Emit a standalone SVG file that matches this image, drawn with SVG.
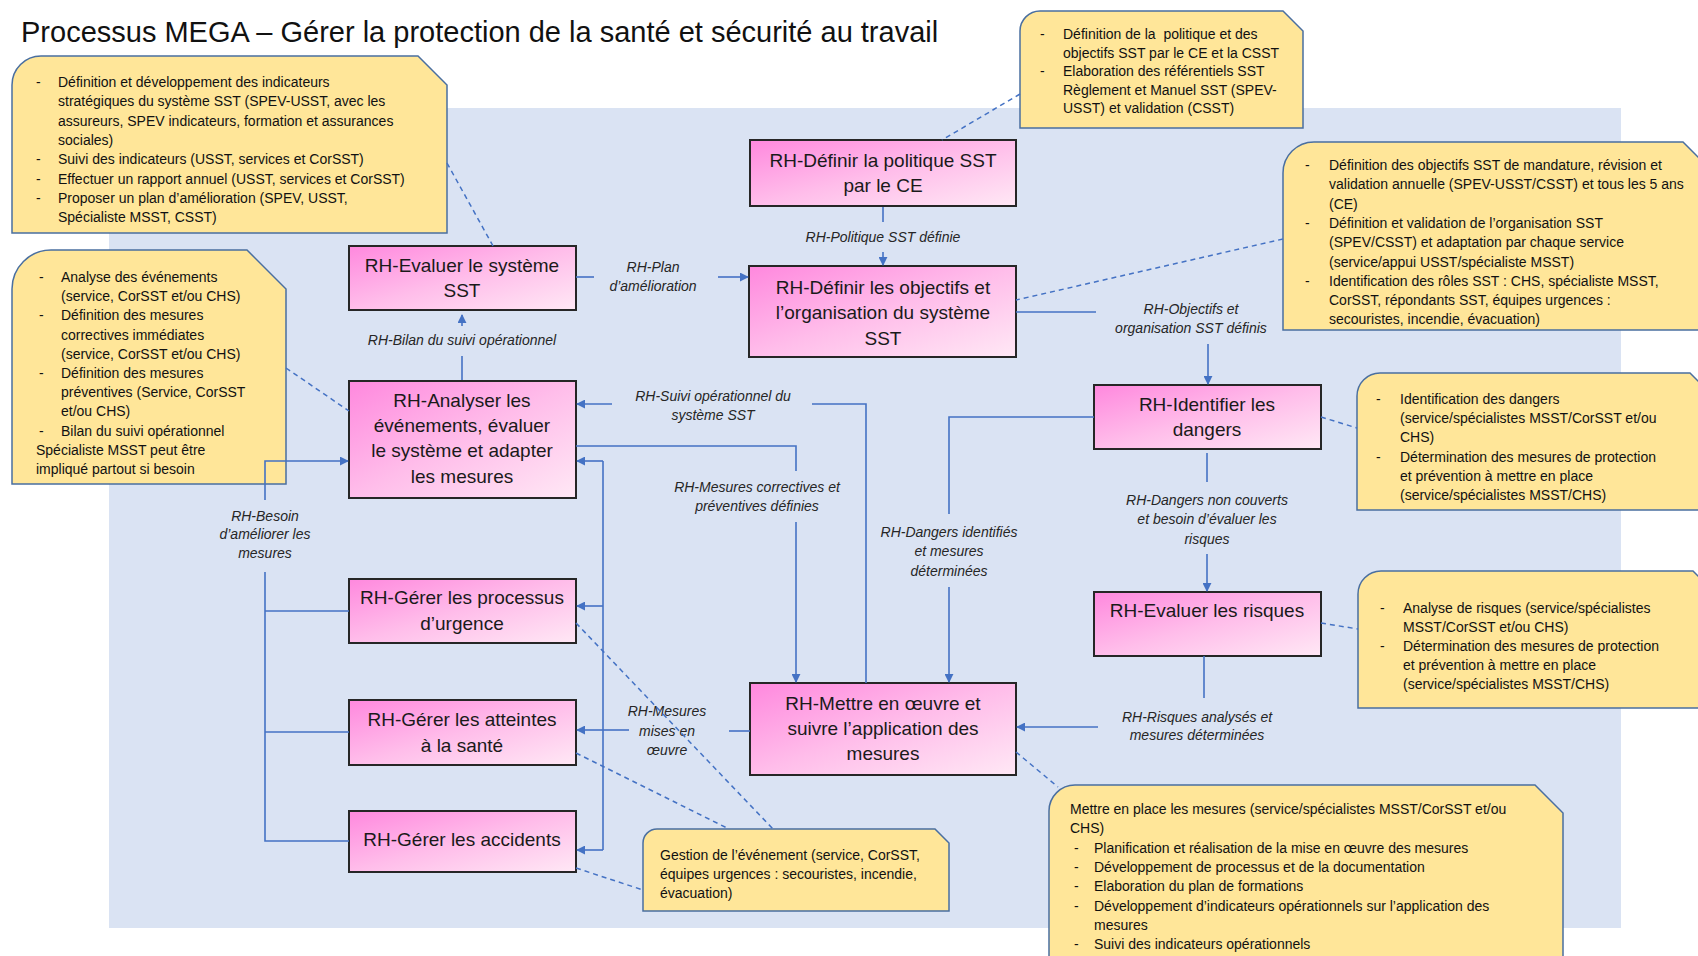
<svg xmlns="http://www.w3.org/2000/svg" width="1698" height="956" viewBox="0 0 1698 956">
<defs>
<linearGradient id="pg" x1="0" y1="0" x2="1" y2="1">
<stop offset="0" stop-color="#FF88DE"/>
<stop offset="0.5" stop-color="#FFBDEA"/>
<stop offset="1" stop-color="#FFE8F5"/>
</linearGradient>
<marker id="ah" viewBox="0 0 10 10" refX="9" refY="5" markerWidth="9" markerHeight="9" markerUnits="userSpaceOnUse" orient="auto">
<path d="M0,0 L10,5 L0,10 z" fill="#4472C4"/>
</marker>
<style>
.bg{fill:#DAE3F3}
.co{fill:#FFE699;stroke:#4A6FA0;stroke-width:1.5}
.bx{fill:url(#pg);stroke:#262626;stroke-width:2}
.title{font-family:"Liberation Sans",Arial,sans-serif;font-size:29px;fill:#111}
.bt{font-family:"Liberation Sans",Arial,sans-serif;font-size:19px;fill:#1a1a1a;text-anchor:middle}
.ct{font-family:"Liberation Sans",Arial,sans-serif;font-size:14px;fill:#111}
.lb{font-family:"Liberation Sans",Arial,sans-serif;font-size:14px;font-style:italic;fill:#262626;text-anchor:middle}
.cn{stroke:#4472C4;stroke-width:1.6;fill:none}
.ar{marker-end:url(#ah)}
.ds{stroke:#4472C4;stroke-width:1.5;fill:none;stroke-dasharray:5 4}
</style>
</defs>

<rect class="bg" x="109" y="108" width="1512" height="820"/>
<text class="title" x="21" y="42">Processus MEGA – Gérer la protection de la santé et sécurité au travail</text>

<!-- Callouts -->
<g id="callout-evaluer">
<path class="co" d="M12,85 A29,29 0 0 1 41,56 L418,56 L447,85 L447,233 L12,233 Z"/>
<text class="ct" x="36" y="87">-</text><text class="ct" x="58" y="87">Définition et développement des indicateurs</text>
<text class="ct" x="58" y="106.3">stratégiques du système SST (SPEV-USST, avec les</text>
<text class="ct" x="58" y="125.6">assureurs, SPEV indicateurs, formation et assurances</text>
<text class="ct" x="58" y="144.9">sociales)</text>
<text class="ct" x="36" y="164.2">-</text><text class="ct" x="58" y="164.2">Suivi des indicateurs (USST, services et CorSST)</text>
<text class="ct" x="36" y="183.5">-</text><text class="ct" x="58" y="183.5">Effectuer un rapport annuel (USST, services et CorSST)</text>
<text class="ct" x="36" y="202.8">-</text><text class="ct" x="58" y="202.8">Proposer un plan d’amélioration (SPEV, USST,</text>
<text class="ct" x="58" y="222.1">Spécialiste MSST, CSST)</text>
</g>

<g id="callout-politique">
<path class="co" d="M1020,31 A20,20 0 0 1 1040,11 L1283,11 L1303,31 L1303,128 L1020,128 Z"/>
<text class="ct" x="1040" y="39">-</text><text class="ct" x="1063" y="39">Définition de la&#160; politique et des</text>
<text class="ct" x="1063" y="57.5">objectifs SST par le CE et la CSST</text>
<text class="ct" x="1040" y="76">-</text><text class="ct" x="1063" y="76">Elaboration des référentiels SST</text>
<text class="ct" x="1063" y="94.5">Règlement et Manuel SST (SPEV-</text>
<text class="ct" x="1063" y="113">USST) et validation (CSST)</text>
</g>

<g id="callout-objectifs">
<path class="co" d="M1283,173 A31,31 0 0 1 1314,142 L1683,142 L1714,173 L1714,330 L1283,330 Z"/>
<text class="ct" x="1305" y="170">-</text><text class="ct" x="1329" y="170">Définition des objectifs SST de mandature, révision et</text>
<text class="ct" x="1329" y="189.3">validation annuelle (SPEV-USST/CSST) et tous les 5 ans</text>
<text class="ct" x="1329" y="208.6">(CE)</text>
<text class="ct" x="1305" y="227.9">-</text><text class="ct" x="1329" y="227.9">Définition et validation de l’organisation SST</text>
<text class="ct" x="1329" y="247.2">(SPEV/CSST) et adaptation par chaque service</text>
<text class="ct" x="1329" y="266.5">(service/appui USST/spécialiste MSST)</text>
<text class="ct" x="1305" y="285.8">-</text><text class="ct" x="1329" y="285.8">Identification des rôles SST : CHS, spécialiste MSST,</text>
<text class="ct" x="1329" y="305.1">CorSST, répondants SST, équipes urgences :</text>
<text class="ct" x="1329" y="324.4">secouristes, incendie, évacuation)</text>
</g>

<g id="callout-analyser">
<path class="co" d="M12,289 A39,39 0 0 1 51,250 L247,250 L286,289 L286,484 L12,484 Z"/>
<text class="ct" x="39" y="282">-</text><text class="ct" x="61" y="282">Analyse des événements</text>
<text class="ct" x="61" y="301.2">(service, CorSST et/ou CHS)</text>
<text class="ct" x="39" y="320.4">-</text><text class="ct" x="61" y="320.4">Définition des mesures</text>
<text class="ct" x="61" y="339.6">correctives immédiates</text>
<text class="ct" x="61" y="358.8">(service, CorSST et/ou CHS)</text>
<text class="ct" x="39" y="378">-</text><text class="ct" x="61" y="378">Définition des mesures</text>
<text class="ct" x="61" y="397.2">préventives (Service, CorSST</text>
<text class="ct" x="61" y="416.4">et/ou CHS)</text>
<text class="ct" x="39" y="435.6">-</text><text class="ct" x="61" y="435.6">Bilan du suivi opérationnel</text>
<text class="ct" x="36" y="454.8">Spécialiste MSST peut être</text>
<text class="ct" x="36" y="474">impliqué partout si besoin</text>
</g>

<g id="callout-dangers">
<path class="co" d="M1357,396 A23,23 0 0 1 1380,373 L1690,373 L1713,396 L1713,510 L1357,510 Z"/>
<text class="ct" x="1376" y="404">-</text><text class="ct" x="1400" y="404">Identification des dangers</text>
<text class="ct" x="1400" y="423">(service/spécialistes MSST/CorSST et/ou</text>
<text class="ct" x="1400" y="442">CHS)</text>
<text class="ct" x="1376" y="461.5">-</text><text class="ct" x="1400" y="461.5">Détermination des mesures de protection</text>
<text class="ct" x="1400" y="480.5">et prévention à mettre en place</text>
<text class="ct" x="1400" y="499.5">(service/spécialistes MSST/CHS)</text>
</g>

<g id="callout-risques">
<path class="co" d="M1358,594 A23,23 0 0 1 1381,571 L1693,571 L1716,594 L1716,708 L1358,708 Z"/>
<text class="ct" x="1380" y="613">-</text><text class="ct" x="1403" y="613">Analyse de risques (service/spécialistes</text>
<text class="ct" x="1403" y="632">MSST/CorSST et/ou CHS)</text>
<text class="ct" x="1380" y="651">-</text><text class="ct" x="1403" y="651">Détermination des mesures de protection</text>
<text class="ct" x="1403" y="669.5">et prévention à mettre en place</text>
<text class="ct" x="1403" y="688.5">(service/spécialistes MSST/CHS)</text>
</g>

<g id="callout-mettre">
<path class="co" d="M1049,811 A26,26 0 0 1 1075,785 L1535,785 L1563,813 L1563,990 L1049,990 Z"/>
<text class="ct" x="1070" y="814">Mettre en place les mesures (service/spécialistes MSST/CorSST et/ou</text>
<text class="ct" x="1070" y="833">CHS)</text>
<text class="ct" x="1074" y="853">-</text><text class="ct" x="1094" y="853">Planification et réalisation de la mise en œuvre des mesures</text>
<text class="ct" x="1074" y="872">-</text><text class="ct" x="1094" y="872">Développement de processus et de la documentation</text>
<text class="ct" x="1074" y="891">-</text><text class="ct" x="1094" y="891">Elaboration du plan de formations</text>
<text class="ct" x="1074" y="911">-</text><text class="ct" x="1094" y="911">Développement d’indicateurs opérationnels sur l’application des</text>
<text class="ct" x="1094" y="930">mesures</text>
<text class="ct" x="1074" y="949">-</text><text class="ct" x="1094" y="949">Suivi des indicateurs opérationnels</text>
</g>

<g id="callout-gestion">
<path class="co" d="M643,843 A14,14 0 0 1 657,829 L935,829 L949,843 L949,911 L643,911 Z"/>
<text class="ct" x="660" y="860">Gestion de l’événement (service, CorSST,</text>
<text class="ct" x="660" y="878.5">équipes urgences : secouristes, incendie,</text>
<text class="ct" x="660" y="897.5">évacuation)</text>
</g>

<!-- Process boxes -->
<g id="node-politique">
<rect class="bx" x="750" y="140" width="266" height="66"/>
<text class="bt" x="883" y="167">RH-Définir la politique SST</text>
<text class="bt" x="883" y="192">par le CE</text>
</g>
<g id="node-evaluer-systeme">
<rect class="bx" x="349" y="246" width="227" height="64"/>
<text class="bt" x="462" y="272">RH-Evaluer le système</text>
<text class="bt" x="462" y="297">SST</text>
</g>
<g id="node-objectifs">
<rect class="bx" x="749" y="266" width="267" height="91"/>
<text class="bt" x="883" y="294">RH-Définir les objectifs et</text>
<text class="bt" x="883" y="319">l’organisation du système</text>
<text class="bt" x="883" y="345">SST</text>
</g>
<g id="node-analyser">
<rect class="bx" x="349" y="381" width="227" height="117"/>
<text class="bt" x="462" y="407">RH-Analyser les</text>
<text class="bt" x="462" y="432">événements, évaluer</text>
<text class="bt" x="462" y="457">le système et adapter</text>
<text class="bt" x="462" y="483">les mesures</text>
</g>
<g id="node-identifier">
<rect class="bx" x="1094" y="385" width="227" height="64"/>
<text class="bt" x="1207" y="411">RH-Identifier les</text>
<text class="bt" x="1207" y="436">dangers</text>
</g>
<g id="node-urgence">
<rect class="bx" x="349" y="579" width="227" height="64"/>
<text class="bt" x="462" y="604">RH-Gérer les processus</text>
<text class="bt" x="462" y="630">d’urgence</text>
</g>
<g id="node-risques">
<rect class="bx" x="1094" y="592" width="227" height="64"/>
<text class="bt" x="1207" y="617">RH-Evaluer les risques</text>
</g>
<g id="node-mettre">
<rect class="bx" x="750" y="683" width="266" height="92"/>
<text class="bt" x="883" y="710">RH-Mettre en œuvre et</text>
<text class="bt" x="883" y="735">suivre l’application des</text>
<text class="bt" x="883" y="760">mesures</text>
</g>
<g id="node-atteintes">
<rect class="bx" x="349" y="700" width="227" height="65"/>
<text class="bt" x="462" y="726">RH-Gérer les atteintes</text>
<text class="bt" x="462" y="752">à la santé</text>
</g>
<g id="node-accidents">
<rect class="bx" x="349" y="811" width="227" height="61"/>
<text class="bt" x="462" y="846">RH-Gérer les accidents</text>
</g>

<!-- Connectors -->
<g id="connectors">
<path class="cn" d="M883,207 L883,222"/>
<path class="cn ar" d="M883,252 L883,265"/>
<text class="lb" x="883" y="242">RH-Politique SST définie</text>
<path class="cn" d="M576,277 L594,277"/>
<path class="cn ar" d="M718,277 L748,277"/>
<text class="lb" x="653" y="272">RH-Plan</text>
<text class="lb" x="653" y="291">d’amélioration</text>
<path class="cn" d="M462,380 L462,356"/>
<path class="cn ar" d="M462,326 L462,315"/>
<text class="lb" x="462" y="345">RH-Bilan du suivi opérationnel</text>
<path class="cn" d="M1016,312 L1096,312"/>
<path class="cn ar" d="M1208,344 L1208,384"/>
<text class="lb" x="1191" y="314">RH-Objectifs et</text>
<text class="lb" x="1191" y="333">organisation SST définis</text>
<path class="cn" d="M1094,417 L949,417 L949,514"/>
<path class="cn ar" d="M949,587 L949,682"/>
<text class="lb" x="949" y="537">RH-Dangers identifiés</text>
<text class="lb" x="949" y="556">et mesures</text>
<text class="lb" x="949" y="576">déterminées</text>
<path class="cn" d="M1207,453 L1207,482"/>
<path class="cn ar" d="M1207,554 L1207,591"/>
<text class="lb" x="1207" y="505">RH-Dangers non couverts</text>
<text class="lb" x="1207" y="524">et besoin d’évaluer les</text>
<text class="lb" x="1207" y="544">risques</text>
<path class="cn" d="M1204,656 L1204,698"/>
<path class="cn ar" d="M1098,727 L1017,727"/>
<text class="lb" x="1197" y="722">RH-Risques analysés et</text>
<text class="lb" x="1197" y="740">mesures déterminées</text>
<path class="cn" d="M866,683 L866,404 L812,404"/>
<path class="cn ar" d="M612,404 L577,404"/>
<text class="lb" x="713" y="401">RH-Suivi opérationnel du</text>
<text class="lb" x="713" y="420">système SST</text>
<path class="cn" d="M576,446 L796,446 L796,471"/>
<path class="cn ar" d="M796,522 L796,682"/>
<text class="lb" x="757" y="492">RH-Mesures correctives et</text>
<text class="lb" x="757" y="511">préventives définies</text>
<path class="cn" d="M750,731 L729,731"/>
<path class="cn" d="M629,730 L603,730"/>
<path class="cn" d="M603,461 L603,850"/>
<path class="cn ar" d="M603,461 L577,461"/>
<path class="cn ar" d="M603,606 L577,606"/>
<path class="cn ar" d="M603,730 L577,730"/>
<path class="cn ar" d="M603,850 L577,850"/>
<text class="lb" x="667" y="716">RH-Mesures</text>
<text class="lb" x="667" y="736">mises en</text>
<text class="lb" x="667" y="755">œuvre</text>
<path class="cn" d="M349,611 L265,611"/>
<path class="cn" d="M349,732 L265,732"/>
<path class="cn" d="M349,841 L265,841 L265,572"/>
<path class="cn ar" d="M265,500 L265,461 L348,461"/>
<text class="lb" x="265" y="521">RH-Besoin</text>
<text class="lb" x="265" y="539">d’améliorer les</text>
<text class="lb" x="265" y="558">mesures</text>
<path class="ds" d="M447,163 L493,246"/>
<path class="ds" d="M1020,94 L942,140"/>
<path class="ds" d="M1283,239 L1016,300"/>
<path class="ds" d="M286,368 L349,411"/>
<path class="ds" d="M1321,417 L1357,428"/>
<path class="ds" d="M1321,623 L1358,629"/>
<path class="ds" d="M1016,752 L1058,787"/>
<path class="ds" d="M576,623 L773,829"/>
<path class="ds" d="M576,753 L729,829"/>
<path class="ds" d="M576,868 L643,890"/>
</g>
</svg>
